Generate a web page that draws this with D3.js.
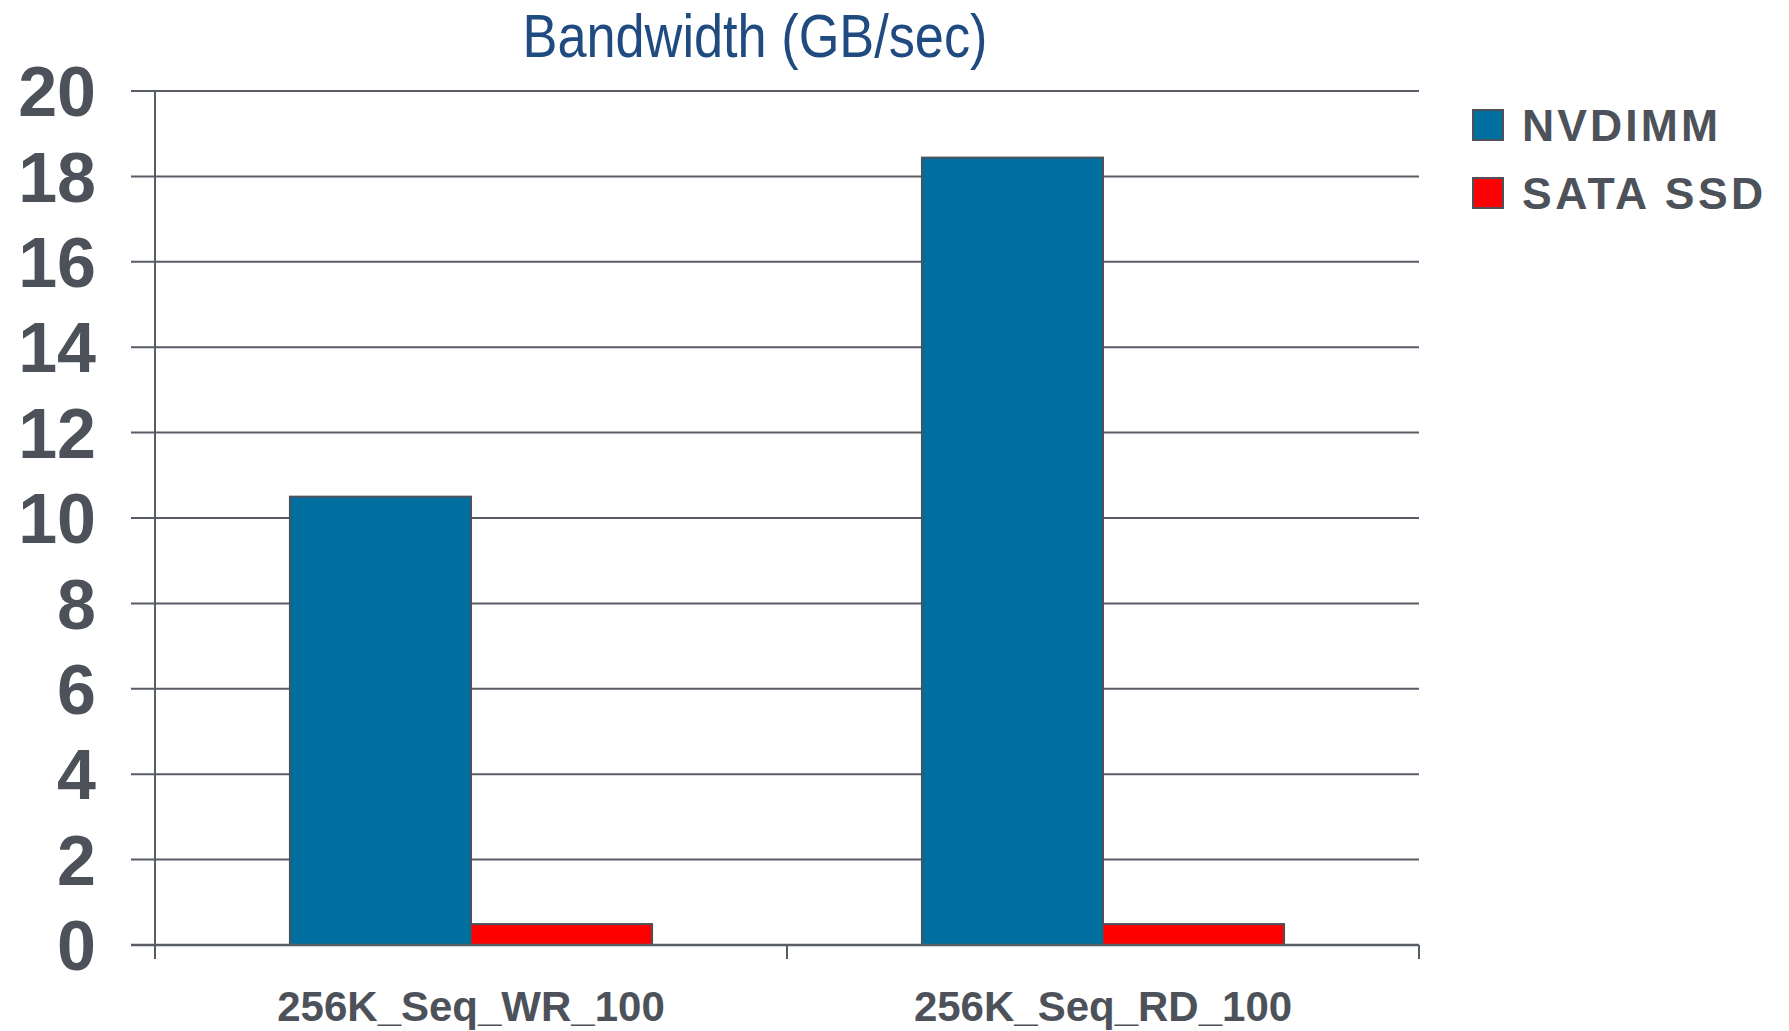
<!DOCTYPE html>
<html>
<head>
<meta charset="utf-8">
<script src="https://cdn.jsdelivr.net/npm/d3@7"></script>
<style>
  html, body { margin: 0; padding: 0; background: #ffffff; }
  svg { display: block; }
</style>
</head>
<body>
<svg id="chart" width="1789" height="1031"></svg>
<script>
// Workload categories and measured bandwidth (GB/sec)
const categories = ["256K_Seq_WR_100", "256K_Seq_RD_100"];
const seriesNames = ["NVDIMM", "SATA SSD"];
const nvdimmValues = [10.5, 18.44];
const sataValues = [0.49, 0.49];
const yTicks = [0, 2, 4, 6, 8, 10, 12, 14, 16, 18, 20];
const titleText = "Bandwidth (GB/sec)";

const colors = { "NVDIMM": "#006f9f", "SATA SSD": "#ff0000" };
const ink = "#4d525a";
const gridColor = "#585c64";

const rows = categories.map((c, i) => ({
  category: c,
  "NVDIMM": nvdimmValues[i],
  "SATA SSD": sataValues[i]
}));

const svg = d3.select("#chart");
const plot = { left: 155, right: 1419, top: 91, bottom: 945 };

const y = d3.scaleLinear().domain([0, 20]).range([plot.bottom, plot.top]);
const x0 = d3.scaleBand()
  .domain(categories)
  .range([plot.left, plot.right])
  .paddingInner(0.427)
  .paddingOuter(0.2135);
const x1 = d3.scaleBand().domain(seriesNames).range([0, x0.bandwidth()]);

// Title
svg.append("text")
  .attr("x", 755)
  .attr("y", 57)
  .attr("text-anchor", "middle")
  .attr("font-family", "'Liberation Sans Narrow', 'Liberation Sans', Arial, sans-serif")
  .attr("font-size", 62)
  .attr("fill", "#1f4b80")
  .attr("textLength", 465)
  .attr("lengthAdjust", "spacingAndGlyphs")
  .text(titleText);

// Horizontal gridlines (extend left of the axis as tick marks)
svg.append("g")
  .selectAll("line")
  .data(yTicks)
  .join("line")
  .attr("x1", plot.left - 24)
  .attr("x2", plot.right)
  .attr("y1", d => y(d))
  .attr("y2", d => y(d))
  .attr("stroke", gridColor)
  .attr("stroke-width", 2);

// Y tick labels
svg.append("g")
  .selectAll("text")
  .data(yTicks)
  .join("text")
  .attr("x", 96)
  .attr("y", d => y(d))
  .attr("dy", "0.36em")
  .attr("text-anchor", "end")
  .attr("font-family", "'Liberation Sans', Arial, sans-serif")
  .attr("font-weight", "bold")
  .attr("font-size", 70)
  .attr("fill", ink)
  .text(d => d);

// Bars
const groups = svg.append("g")
  .selectAll("g")
  .data(rows)
  .join("g")
  .attr("transform", d => `translate(${x0(d.category)},0)`);

groups.selectAll("rect")
  .data(d => seriesNames.map(s => ({ key: s, value: d[s] })))
  .join("rect")
  .attr("x", d => x1(d.key))
  .attr("width", x1.bandwidth())
  .attr("y", d => y(d.value))
  .attr("height", d => y(0) - y(d.value))
  .attr("fill", d => colors[d.key])
  .attr("stroke", ink)
  .attr("stroke-width", 2);

// Axes lines
svg.append("line")
  .attr("x1", plot.left).attr("x2", plot.left)
  .attr("y1", plot.top).attr("y2", plot.bottom + 14)
  .attr("stroke", gridColor).attr("stroke-width", 2);

svg.append("line")
  .attr("x1", plot.left - 24).attr("x2", plot.right)
  .attr("y1", plot.bottom).attr("y2", plot.bottom)
  .attr("stroke", gridColor).attr("stroke-width", 2.5);

// Category separators on the x axis
const sepX = [plot.left].concat(categories.map(c => x0(c) + x0.bandwidth() + x0.step() * x0.paddingOuter()));
svg.append("g")
  .selectAll("line")
  .data(sepX)
  .join("line")
  .attr("x1", d => d).attr("x2", d => d)
  .attr("y1", plot.bottom).attr("y2", plot.bottom + 14)
  .attr("stroke", gridColor).attr("stroke-width", 2);

// Category labels
svg.append("g")
  .selectAll("text")
  .data(categories)
  .join("text")
  .attr("x", d => x0(d) + x0.bandwidth() / 2)
  .attr("y", 1021)
  .attr("text-anchor", "middle")
  .attr("font-family", "'Liberation Sans', Arial, sans-serif")
  .attr("font-weight", "bold")
  .attr("font-size", 42)
  .attr("fill", ink)
  .text(d => d);

// Legend
const legend = svg.append("g")
  .selectAll("g")
  .data(seriesNames)
  .join("g")
  .attr("transform", (d, i) => `translate(1473,${110 + i * 68})`);

legend.append("rect")
  .attr("width", 30)
  .attr("height", 30)
  .attr("fill", d => colors[d])
  .attr("stroke", ink)
  .attr("stroke-width", 2);

legend.append("text")
  .attr("x", 49)
  .attr("y", 31)
  .attr("font-family", "'Liberation Sans', Arial, sans-serif")
  .attr("font-weight", "bold")
  .attr("font-size", 44.5)
  .attr("letter-spacing", (d, i) => i === 0 ? 3.1 : 3.5)
  .attr("fill", ink)
  .text(d => d);
</script>
</body>
</html>
